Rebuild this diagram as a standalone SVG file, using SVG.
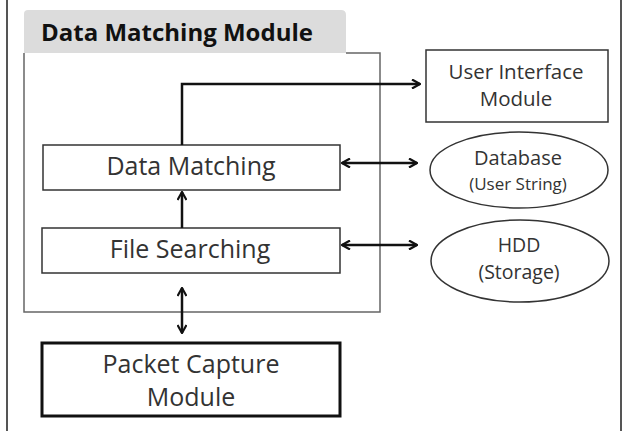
<svg xmlns="http://www.w3.org/2000/svg" width="634" height="431" viewBox="0 0 634 431">
<defs>
<marker id="ah" viewBox="0 0 10 10" refX="9" refY="5" markerWidth="10" markerHeight="10" markerUnits="userSpaceOnUse" orient="auto-start-reverse">
<path d="M1,0.5 L9,5 L1,9.5" fill="none" stroke="#111" stroke-width="2.2" stroke-linejoin="miter"/>
</marker>
</defs>
<style>
.frame{stroke:#555;stroke-width:2;fill:none}
.box{fill:#fff;stroke:#333;stroke-width:1.5}
.thick{fill:#fff;stroke:#111;stroke-width:3}
.conn{stroke:#111;stroke-width:2.5;fill:none}
text{font-family:"Open Sans","Noto Sans","DejaVu Sans",sans-serif;fill:#333;text-anchor:middle}
.title{font-family:"Open Sans","Noto Sans",sans-serif;font-weight:bold;fill:#111;text-anchor:start;font-size:24px}
</style>
<rect width="634" height="431" fill="#fff"/>
<line class="frame" x1="7" y1="0" x2="7" y2="431"/>
<line class="frame" x1="621" y1="0" x2="621" y2="431"/>
<g id="module">
<path d="M24,53 L24,14 Q24,10 28,10 L341,10 Q346,10 346,15 L346,53 Z" fill="#dcdcdc"/>
<path d="M24,53 L24,312 L380,312 L380,53 L346,53" fill="none" stroke="#666" stroke-width="1.5"/>
<text class="title" x="41" y="41">Data Matching Module</text>
</g>
<g id="data-matching">
<rect class="box" x="43" y="145" width="297" height="45"/>
<text x="191" y="175" font-size="25">Data Matching</text>
</g>
<g id="file-searching">
<rect class="box" x="42" y="228" width="298" height="45"/>
<text x="190" y="258" font-size="25">File Searching</text>
</g>
<g id="ui-module">
<rect class="box" x="426" y="50" width="182" height="72"/>
<text x="516" y="79" font-size="20.5">User Interface</text>
<text x="516" y="106" font-size="20.5">Module</text>
</g>
<g id="database">
<ellipse class="box" cx="519" cy="170" rx="89" ry="38"/>
<text x="518" y="165" font-size="20">Database</text>
<text x="518" y="190" font-size="17">(User String)</text>
</g>
<g id="hdd">
<ellipse class="box" cx="520" cy="261" rx="89" ry="41"/>
<text x="519" y="252" font-size="19.5">HDD</text>
<text x="519" y="279" font-size="19.5">(Storage)</text>
</g>
<g id="packet-capture">
<rect class="thick" x="42" y="343" width="298" height="73"/>
<text x="191" y="373" font-size="25">Packet Capture</text>
<text x="191" y="406" font-size="25">Module</text>
</g>
<g id="connectors">
<path class="conn" d="M182,145 L182,84 L420,84" marker-end="url(#ah)"/>
<path class="conn" d="M182,228 L182,192" marker-end="url(#ah)"/>
<path class="conn" d="M342,163 L417,163" marker-start="url(#ah)" marker-end="url(#ah)"/>
<path class="conn" d="M342,245 L417,245" marker-start="url(#ah)" marker-end="url(#ah)"/>
<path class="conn" d="M182,288 L182,333" marker-start="url(#ah)" marker-end="url(#ah)"/>
</g>
</svg>
